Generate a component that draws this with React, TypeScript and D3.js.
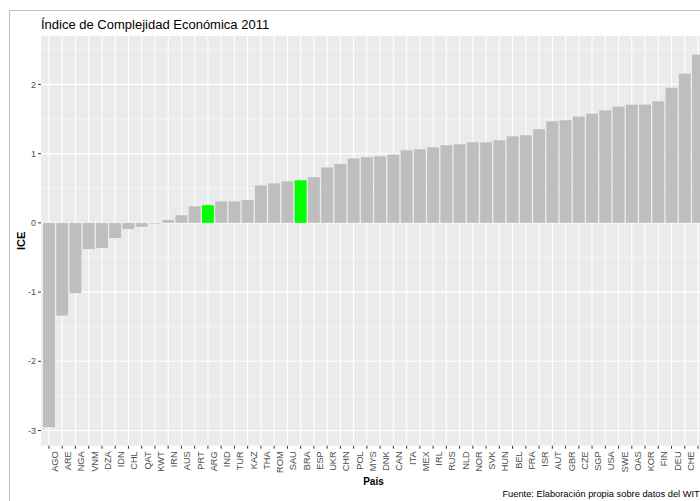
import React from "react";
import * as d3 from "d3";

const countries = [
  "AGO","ARE","NGA","VNM","DZA","IDN","CHL","QAT","KWT","IRN",
  "AUS","PRT","ARG","IND","TUR","KAZ","THA","ROM","SAU","BRA",
  "ESP","UKR","CHN","POL","MYS","DNK","CAN","ITA","MEX","IRL",
  "RUS","NLD","NOR","SVK","HUN","BEL","FRA","ISR","AUT","GBR",
  "CZE","SGP","USA","SWE","OAS","KOR","FIN","DEU","CHE","JPN",
];
const iceValues = [
  -2.95,-1.34,-1.015,-0.38,-0.365,-0.22,-0.09,-0.058,-0.01,0.04,
  0.11,0.24,0.255,0.31,0.31,0.33,0.54,0.57,0.60,0.615,
  0.66,0.80,0.85,0.93,0.948,0.962,0.986,1.049,1.063,1.092,
  1.121,1.135,1.164,1.164,1.193,1.25,1.265,1.352,1.467,1.482,
  1.534,1.577,1.626,1.678,1.707,1.707,1.756,1.952,2.154,2.43,
];
const highlighted = ["ARG","BRA"];
const yTicks = [-3,-2,-1,0,1,2];
const yMinor = [-2.5,-1.5,-0.5,0.5,1.5,2.5];
const title = "Índice de Complejidad Económica 2011";
const xTitle = "Pais";
const yTitle = "ICE";
const caption = "Fuente: Elaboración propia sobre datos del WITS";

const W = 700, H = 501;
const left = 41, right = 706, top = 36, bottom = 445.7;
const FONT = "'Liberation Sans', Arial, sans-serif";

export default function App() {
  const x = d3.scaleBand<string>().domain(countries).range([left, right]).paddingInner(0.1).paddingOuter(0.15);
  const minV = d3.min(iceValues) as number;
  const maxV = d3.max(iceValues) as number;
  const ext = (maxV - minV) * 0.05;
  const y = d3.scaleLinear().domain([minV - ext, maxV + ext]).range([bottom, top]);
  const bw = x.bandwidth();
  const cx = (c: string) => (x(c) as number) + bw / 2;

  return (
    <svg width={W} height={H} style={{ position: "fixed", left: 0, top: 0, background: "#fff" }} fontFamily={FONT}>
      <rect x={9.5} y={10.5} width={W} height={H} fill="none" stroke="#bdbdbd" strokeWidth={1} />
      <text x={left} y={29} fontSize={13} fill="#000">{title}</text>
      <rect x={left} y={top} width={right - left} height={bottom - top} fill="#ebebeb" />
      {yMinor.map((t) => (
        <line key={"m" + t} x1={left} x2={right} y1={y(t)} y2={y(t)} stroke="#fff" strokeWidth={0.55} />
      ))}
      {yTicks.map((t) => (
        <line key={"g" + t} x1={left} x2={right} y1={y(t)} y2={y(t)} stroke="#fff" strokeWidth={1.1} />
      ))}
      {countries.map((c) => (
        <line key={"v" + c} x1={cx(c)} x2={cx(c)} y1={top} y2={bottom} stroke="#fff" strokeWidth={1.1} />
      ))}
      {countries.map((c, i) => {
        const v = iceValues[i];
        const y0 = y(0), y1 = y(v);
        return (
          <rect key={"b" + c} x={x(c)} width={bw} y={Math.min(y0, y1)} height={Math.abs(y1 - y0)}
            fill={highlighted.includes(c) ? "#00ff00" : "#bebebe"} />
        );
      })}
      {yTicks.map((t) => (
        <g key={"yt" + t}>
          <line x1={left - 3} x2={left} y1={y(t)} y2={y(t)} stroke="#333" strokeWidth={1} />
          <text x={left - 5} y={y(t)} dy="0.35em" textAnchor="end" fontSize={9} fill="#4d4d4d">{t}</text>
        </g>
      ))}
      {countries.map((c) => (
        <g key={"xt" + c}>
          <line x1={cx(c)} x2={cx(c)} y1={bottom} y2={bottom + 3} stroke="#333" strokeWidth={1} />
          <text transform={`translate(${cx(c) + 9},${bottom + 5.5}) rotate(-90)`} textAnchor="end" fontSize={9.3} fill="#4d4d4d">{c}</text>
        </g>
      ))}
      <text x={(left + right) / 2} y={484.5} textAnchor="middle" fontSize={10} fontWeight="bold" fill="#000">{xTitle}</text>
      <text transform={`translate(25,${(top + bottom) / 2}) rotate(-90)`} textAnchor="middle" fontSize={11} fontWeight="bold" fill="#000">{yTitle}</text>
      <text x={right} y={497} textAnchor="end" fontSize={9.3} fill="#000">{caption}</text>
    </svg>
  );
}
